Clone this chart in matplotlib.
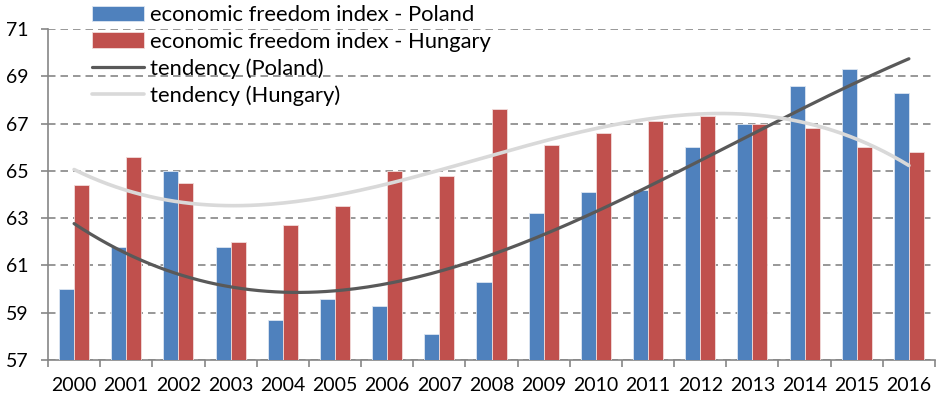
import numpy as np
import matplotlib
matplotlib.use('Agg')
import matplotlib.pyplot as plt

plt.rcParams['font.family'] = ['Lato', 'DejaVu Sans']

years = ['2000', '2001', '2002', '2003', '2004', '2005', '2006', '2007', '2008',
         '2009', '2010', '2011', '2012', '2013', '2014', '2015', '2016']
poland = [60.0, 61.8, 65.0, 61.8, 58.7, 59.6, 59.3, 58.1, 60.3,
          63.2, 64.1, 64.2, 66.0, 67.0, 68.6, 69.3, 68.3]
hungary = [64.4, 65.6, 64.5, 62.0, 62.7, 63.5, 65.0, 64.8, 67.6,
           66.1, 66.6, 67.1, 67.3, 67.0, 66.8, 66.0, 65.8]

blue = '#4F81BD'
red = '#C0504D'
grid_col = '#868686'

x = np.arange(len(years))
w = 0.288

fig = plt.figure(figsize=(9.38, 4), dpi=100)
ax = fig.add_axes([48 / 938, 40 / 400, 887 / 938, 331 / 400])

b1 = ax.bar(x - w / 2, poland, w, color=blue, edgecolor='#dce6f2', linewidth=0.6,
            label='economic freedom index - Poland', zorder=3)
b2 = ax.bar(x + w / 2, hungary, w, color=red, edgecolor='#f2dcdb', linewidth=0.6,
            label='economic freedom index - Hungary', zorder=3)

# polynomial trend lines (3rd order, like Excel)
xs = np.linspace(0, len(years) - 1, 200)
tp = np.polyval(np.polyfit(x, poland, 3), xs)
th = np.polyval(np.polyfit(x, hungary, 3), xs)
l1, = ax.plot(xs, tp, color='#595959', lw=2.3, label='tendency (Poland)', zorder=4,
              solid_capstyle='round')
l2, = ax.plot(xs, th, color='#D9D9D9', lw=2.6, label='tendency (Hungary)', zorder=4,
              solid_capstyle='round')

ax.set_ylim(57, 71)
ax.set_xlim(-0.5, len(years) - 0.5)
ax.set_yticks(np.arange(57, 72, 2))
ax.yaxis.grid(True, color=grid_col, lw=1.2, linestyle=(0, (4.5, 3)))
ax.set_axisbelow(True)

ax.set_xticks(np.arange(-0.5, len(years), 1))
ax.set_xticklabels([])
ax.set_xticks(x, minor=True)
ax.set_xticklabels(years, minor=True)
ax.tick_params(axis='x', which='major', length=5, width=1.2, color=grid_col, direction='out')
ax.tick_params(axis='x', which='minor', length=0, pad=12, labelsize=14)
ax.tick_params(axis='y', length=5, width=1.2, color=grid_col, pad=9, labelsize=14)

for s in ['top', 'right']:
    ax.spines[s].set_visible(False)
for s in ['left', 'bottom']:
    ax.spines[s].set_color(grid_col)
    ax.spines[s].set_linewidth(1.2)

ax.legend([b1, b2, l1, l2], [b1.get_label(), b2.get_label(), l1.get_label(), l2.get_label()],
          loc='upper left', bbox_to_anchor=(91 / 938, 396 / 400), bbox_transform=fig.transFigure,
          frameon=False, fontsize=15.8, handlelength=2.35, handletextpad=0.3,
          labelspacing=0.3, borderpad=0.05, borderaxespad=0)

plt.savefig('out.png', dpi=100)
